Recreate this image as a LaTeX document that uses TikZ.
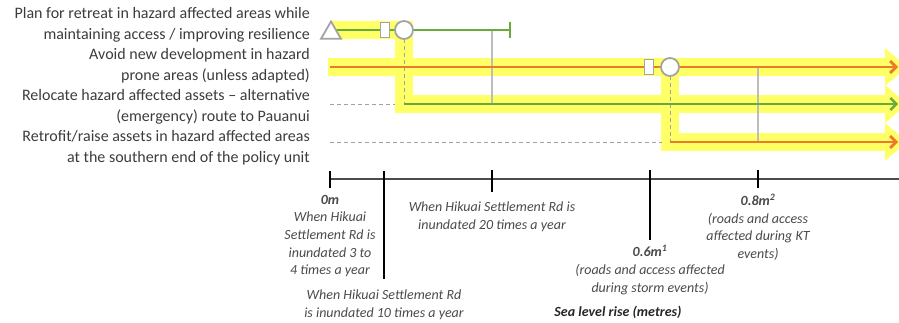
\documentclass[tikz,border=0pt]{standalone}
\usepackage{fontspec}
\setmainfont{Carlito}
\usetikzlibrary{arrows.meta,shapes.geometric}
\definecolor{hl}{HTML}{FFFF66}
\definecolor{pgreen}{HTML}{6AAA3C}
\definecolor{porange}{HTML}{EC7A28}
\definecolor{shapegray}{HTML}{A3A3A3}
\definecolor{guidegray}{HTML}{BDBDBD}
\definecolor{txtgray}{HTML}{3C3C3C}
\definecolor{axtxt}{HTML}{4A4A4A}
\begin{document}
\begin{tikzpicture}[x=1pt,y=-1pt,
  lbl/.style={anchor=east,align=right,inner sep=0pt,text=txtgray,
    font=\fontsize{16}{20.6}\selectfont},
  axlbl/.style={align=center,inner sep=0pt,text=axtxt,
    font=\fontsize{14}{17.6}\selectfont\itshape},
  band/.style={draw=hl,line width=18pt,line join=miter},
  bandhead/.style={fill=hl},
  gline/.style={draw=pgreen,line width=2.4pt},
  oline/.style={draw=porange,line width=2.8pt},
  ptip/.style={-{Straight Barb[length=6pt,width=12pt]}},
  guide/.style={draw=guidegray,line width=1.4pt},
  dguide/.style={draw=guidegray!85!black,line width=1pt,dash pattern=on 4pt off 3pt},
  sqbox/.style={draw=shapegray,fill=white,line width=1.8pt,minimum width=9pt,minimum height=15pt,inner sep=0pt},
  circbox/.style={draw=shapegray,fill=white,line width=1.8pt,circle,minimum size=18pt,inner sep=0pt},
  tribox/.style={draw=shapegray,fill=white,line width=1.8pt,regular polygon,regular polygon sides=3,minimum size=23pt,inner sep=0pt},
  axis/.style={draw=black!70,line width=2pt},
  tick/.style={draw=black,line width=1.3pt}]
\useasboundingbox (0,0) rectangle (899,322);

% ---------- left labels ----------
\node[lbl] (l1) at (310,25) {Plan for retreat in hazard affected areas while\\maintaining access / improving resilience};
\node[lbl] (l2) at (310,65.5) {Avoid new development in hazard\\prone areas (unless adapted)};
\node[lbl] (l3) at (310,107) {Relocate hazard affected assets -- alternative\\(emergency) route to Pauanui};
\node[lbl] (l4) at (310,148) {Retrofit/raise assets in hazard affected areas\\at the southern end of the policy unit};

% ---------- coordinates ----------
\coordinate (t) at (331,30);
\coordinate (end1) at (510,30);
\coordinate (r2s) at (330,67);
\coordinate (r2e) at (898,67);
\coordinate (r3s) at (404,104);
\coordinate (r3e) at (898,104);
\coordinate (r4s) at (670,142);
\coordinate (r4e) at (898,142);

% ---------- yellow highlight bands ----------
\draw[band] (332,30) -- (404,30) -- (404,104) -- (886,104);
\draw[band] (328,67) -- (886,67);
\draw[band] (670,67) -- (670,142) -- (886,142);
\fill[bandhead] (885,48) -- (907,67) -- (885,86) -- cycle;
\fill[bandhead] (885,85) -- (907,104) -- (885,123) -- cycle;
\fill[bandhead] (885,123) -- (907,142) -- (885,161) -- cycle;

% ---------- guide lines ----------
\draw[dguide] (330,104) -- (395,104);
\draw[dguide] (330,142) -- (662,142);
\draw[dguide] (404,39) -- (r3s);
\draw[dguide] (670,76) -- (r4s);
\draw[guide] (492,30) -- (492,104);
\draw[guide] (758,67) -- (758,142);

% ---------- shapes ----------
\draw[gline] (t) -- (385,30);
\node[tribox] (tri) at (331,33) {};
\node[sqbox] (sq1) at (385,30) {};
\node[circbox] (c1) at (404,30) {};
\node[sqbox] (sq2) at (649,67) {};
\node[circbox] (c2) at (670,67) {};

% ---------- pathway lines ----------
\draw[gline] (tri.east |- t) ++(1,0) -- (sq1.west);
\draw[gline] (sq1.east) -- (c1.west);
\draw[gline] (c1.east) -- (end1);
\draw[gline] (510,22) -- (510,38);
\draw[oline] (r2s) -- (sq2.west);
\draw[oline] (sq2.east) -- (c2.west);
\draw[oline,ptip] (c2.east) -- (r2e);
\draw[gline,ptip] (r3s) -- (r3e);
\draw[oline,ptip] (r4s) -- (r4e);

% ---------- axis ----------
\coordinate (a0) at (330,179);
\coordinate (aend) at (899,179);
\draw[axis] (a0) -- (aend);
\draw[tick] (330,171) -- (330,188);
\draw[tick] (384,171) -- (384,279);
\draw[tick] (492,170) -- (492,192);
\draw[tick] (650,170) -- (650,240);
\draw[tick] (758,170) -- (758,188);

% ---------- axis labels ----------
\node[axlbl] (x0) at (330,236) {{\bfseries 0m}\\When Hikuai\\Settlement Rd is\\inundated 3 to\\4 times a year};
\node[axlbl] (x10) at (384,305) {When Hikuai Settlement Rd\\is inundated 10 times a year};
\node[axlbl] (x20) at (492,217) {When Hikuai Settlement Rd is\\inundated 20 times a year};
\node[axlbl] (x06) at (650,270) {{\bfseries 0.6m\textsuperscript{1}}\\(roads and access affected\\during storm events)};
\node[axlbl] (x08) at (758,227) {{\bfseries 0.8m\textsuperscript{2}}\\(roads and access\\affected during KT\\events)};
\node[axlbl,text=black!85,font=\fontsize{14}{15}\selectfont\bfseries\itshape] (slr) at (618,312) {Sea level rise (metres)};
\end{tikzpicture}
\end{document}
